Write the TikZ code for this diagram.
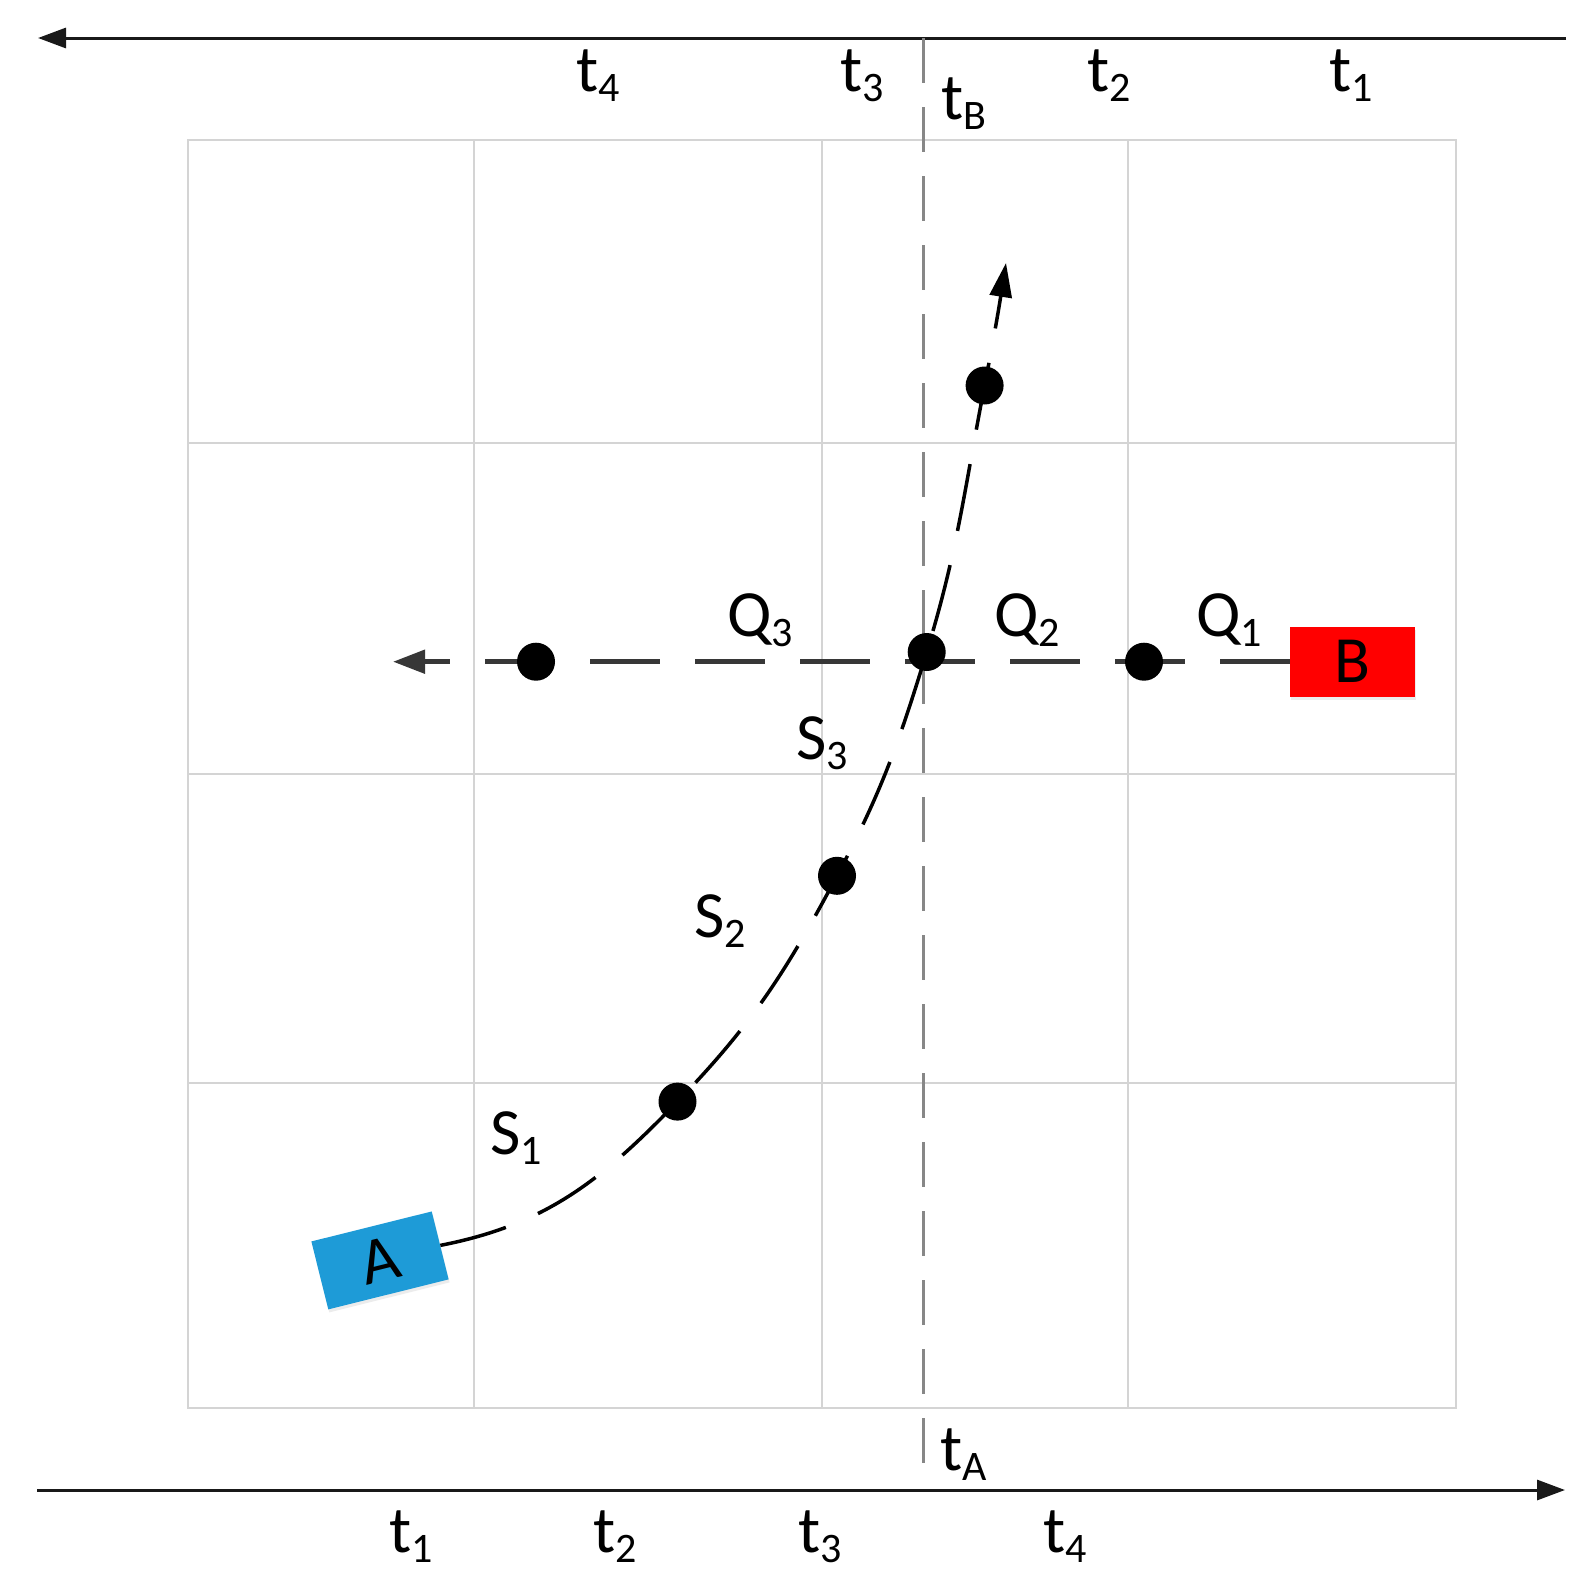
\documentclass[tikz,border=0pt]{standalone}
\usepackage{fontspec}
\setmainfont{Carlito}
\usetikzlibrary{arrows.meta,shadows}
\definecolor{boxblue}{RGB}{30,155,215}
\definecolor{gridgray}{RGB}{212,212,212}
\definecolor{vgray}{RGB}{135,135,135}
\definecolor{hdark}{RGB}{55,55,55}
\newcommand\subs[1]{\raisebox{-10pt}{\fontsize{42}{42}\selectfont #1}}
\begin{document}
\begin{tikzpicture}[x=1pt,y=-1pt,
  lbl/.style={inner sep=0pt,font=\fontsize{66}{72}\selectfont},
  dot/.style={circle,fill=black,inner sep=0pt,minimum size=38pt},
  gridline/.style={draw=gridgray,line width=2pt},
  axis/.style={draw=black!90,line width=3pt,-{Triangle[length=28pt,width=20pt]}},
  boxshadow/.style={drop shadow={opacity=0.15,shadow xshift=1pt,shadow yshift=-3pt}}
]
\useasboundingbox[fill=white] (0,0) rectangle (1595,1583);

% grid
\draw[gridline] (188,140) rectangle (1456,1408);
\foreach \gx in {474,822,1128} \draw[gridline] (\gx,140) -- (\gx,1408);
\foreach \gy in {442.5,774,1083} \draw[gridline] (188,\gy) -- (1456,\gy);

% axes
\coordinate (topR) at (1566,38);
\coordinate (topL) at (38,38);
\coordinate (botL) at (37,1490);
\coordinate (botR) at (1565,1490);
\draw[axis] (topR) -- (topL);
\draw[axis] (botL) -- (botR);

% vertical dashed line
\coordinate (vt) at (923.6,38);
\coordinate (vb) at (923.6,1465);
\draw[vgray,line width=2.5pt,dash pattern=on 45pt off 24pt] (vt) -- (vb);

% boxes
\node[boxshadow,fill=boxblue,minimum width=124pt,minimum height=70pt,inner sep=0pt,rotate=14,font=\fontsize{66}{72}\selectfont] (A) at (380,1260.4) {A};
\node[boxshadow,fill=red,minimum width=125pt,minimum height=70pt,inner sep=0pt,font=\fontsize{66}{72}\selectfont] (B) at (1352.5,661.7) {B};

% dots positions
\coordinate (d1) at (677.5,1101.6);
\coordinate (d2) at (837,875.8);
\coordinate (d3) at (926.7,652);
\coordinate (d4) at (984.6,385.5);
\coordinate (tipA) at (1006,263);
\coordinate (q1) at (1144,661.7);
\coordinate (q3) at (536,661.7);
\coordinate (tipB) at (393,661.7);

% horizontal dashed path of B
\draw[hdark,line width=5pt,dash pattern=on 70pt off 35pt,-{Triangle[length=32pt,width=23pt]}] (B.west) -- (q1) -- (q3) -- (tipB);

% curved path of A
\draw[black,line width=3.5pt,dash pattern=on 68pt off 35pt,-{Triangle[length=34pt,width=22pt]}]
  (A.east) to[out=11,in=226] (d1) to[out=46,in=242] (d2) to[out=62,in=253] (d3)
  to[out=73,in=259] (d4) to[out=79,in=261] (tipA);

% dots
\node[dot] (n1) at (d1) {};
\node[dot] (n2) at (d2) {};
\node[dot] (n3) at (d3) {};
\node[dot] (n4) at (d4) {};
\node[dot] (m1) at (q1) {};
\node[dot] (m3) at (q3) {};

% labels top
\node[lbl] (lt4) at (598,76) {t\subs{4}};
\node[lbl] (lt3) at (862,76) {t\subs{3}};
\node[lbl] (ltB) at (964,104) {t\subs{B}};
\node[lbl] (lt2) at (1109,76) {t\subs{2}};
\node[lbl] (lt1) at (1351,76) {t\subs{1}};
% labels bottom
\node[lbl] (bt1) at (411,1537) {t\subs{1}};
\node[lbl] (bt2) at (615,1537) {t\subs{2}};
\node[lbl] (bt3) at (820,1537) {t\subs{3}};
\node[lbl] (bt4) at (1065,1537) {t\subs{4}};
\node[lbl] (ltA) at (964,1455) {t\subs{A}};
% Q and S labels
\node[lbl] (Q3) at (760,620) {Q\subs{3}};
\node[lbl] (Q2) at (1027,620) {Q\subs{2}};
\node[lbl] (Q1) at (1229,620) {Q\subs{1}};
\node[lbl] (S3) at (822,743) {S\subs{3}};
\node[lbl] (S2) at (720,921) {S\subs{2}};
\node[lbl] (S1) at (516,1138) {S\subs{1}};
\end{tikzpicture}
\end{document}
